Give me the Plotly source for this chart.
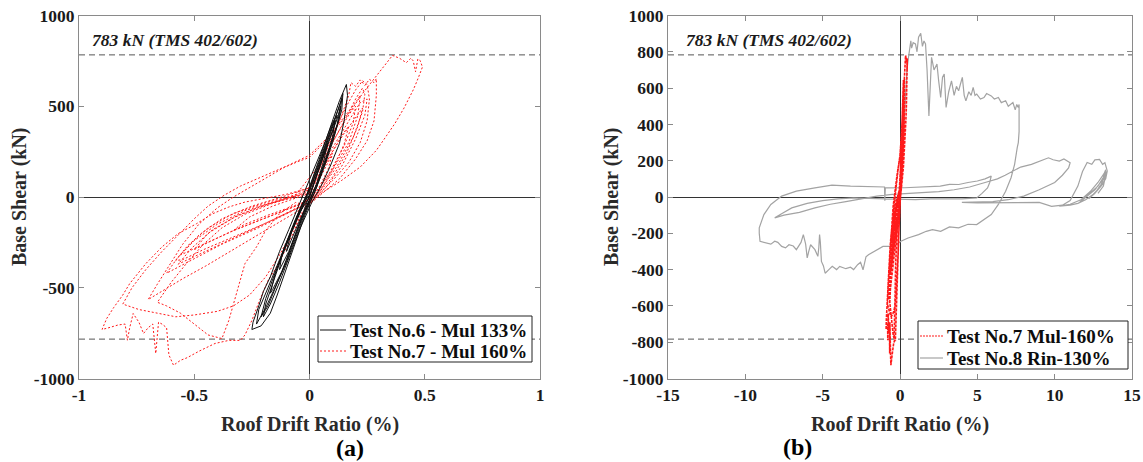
import plotly.graph_objects as go

# Test No.7 - Mul 160%  (drift %, base shear kN)
test7_pts = [
    (0.00, 0), (0.04, 90), (0.08, 190), (0.10, 240), (0.08, 150), (0.04, 50), (0.00, -15),
    (-0.08, -55), (-0.18, -100), (-0.28, -150), (-0.33, -185), (-0.26, -110), (-0.16, -50),
    (-0.06, -5), (0.00, 20),
    (0.04, 110), (0.09, 230), (0.14, 340), (0.17, 390), (0.15, 290), (0.10, 150), (0.05, 40),
    (0.00, -20), (-0.10, -70), (-0.22, -130), (-0.34, -190), (-0.44, -250), (-0.50, -290),
    (-0.44, -200), (-0.33, -115), (-0.22, -55), (-0.10, -10), (0.00, 30),
    (0.05, 140), (0.10, 250), (0.15, 350), (0.20, 440), (0.23, 490), (0.21, 390), (0.16, 240),
    (0.10, 110), (0.03, 10), (-0.05, -45), (-0.18, -110), (-0.32, -180), (-0.45, -255),
    (-0.53, -305), (-0.56, -320), (-0.50, -240), (-0.40, -150), (-0.28, -75), (-0.15, -25),
    (-0.03, 15),
    (0.03, 100), (0.09, 250), (0.15, 380), (0.19, 460), (0.22, 520), (0.25, 540), (0.24, 450),
    (0.20, 320), (0.14, 170), (0.07, 50), (0.01, -25), (-0.08, -80), (-0.20, -150),
    (-0.33, -220), (-0.46, -290), (-0.55, -345), (-0.58, -350), (-0.53, -270), (-0.44, -170),
    (-0.33, -90), (-0.20, -35), (-0.08, 5), (0.00, 40),
    (0.05, 170), (0.10, 300), (0.16, 440), (0.20, 540), (0.23, 600), (0.24, 565), (0.23, 470),
    (0.19, 330), (0.12, 170), (0.05, 45), (0.00, -30), (-0.10, -95), (-0.23, -175),
    (-0.38, -260), (-0.50, -340), (-0.58, -395), (-0.62, -420), (-0.57, -330), (-0.48, -210),
    (-0.38, -120), (-0.25, -50), (-0.12, 0), (0.00, 50),
    (0.04, 150), (0.09, 280), (0.14, 390), (0.18, 470), (0.20, 500), (0.19, 410), (0.15, 280),
    (0.09, 140), (0.03, 20), (-0.04, -50), (-0.15, -120), (-0.30, -210), (-0.42, -280),
    (-0.52, -340), (-0.57, -370), (-0.51, -280), (-0.42, -180), (-0.31, -100), (-0.18, -40),
    (-0.06, 10),
    (0.05, 190), (0.10, 330), (0.14, 450), (0.17, 560), (0.18, 630), (0.20, 610), (0.22, 645),
    (0.24, 615), (0.26, 648), (0.28, 630), (0.29, 652), (0.29, 560), (0.28, 420), (0.25, 310),
    (0.20, 210), (0.13, 100), (0.06, 25), (0.00, -40), (-0.08, -100), (-0.20, -190),
    (-0.33, -290), (-0.45, -380), (-0.55, -450), (-0.63, -510), (-0.70, -565), (-0.66, -480),
    (-0.61, -380), (-0.55, -260), (-0.48, -150), (-0.40, -60), (-0.33, 0), (-0.26, 52),
    (-0.18, 110), (-0.11, 163), (-0.05, 195), (0.00, 218), (0.06, 295), (0.12, 383),
    (0.18, 477), (0.23, 570), (0.30, 680), (0.36, 780),
    (0.39, 765), (0.42, 740), (0.44, 765), (0.45, 750), (0.46, 690), (0.47, 760), (0.48, 752),
    (0.49, 716), (0.47, 650), (0.45, 590), (0.41, 490), (0.37, 404), (0.33, 330), (0.29, 257),
    (0.22, 165), (0.14, 92), (0.06, 28), (0.01, -20), (-0.04, -110), (-0.10, -280),
    (-0.14, -380), (-0.18, -460), (-0.22, -580), (-0.25, -680), (-0.28, -760), (-0.30, -790),
    (-0.35, -790), (-0.41, -807), (-0.48, -850), (-0.53, -885), (-0.56, -900), (-0.59, -927),
    (-0.61, -870), (-0.62, -720), (-0.64, -700), (-0.655, -690), (-0.667, -862), (-0.68, -700),
    (-0.70, -720), (-0.72, -752), (-0.74, -690), (-0.765, -642), (-0.78, -720), (-0.79, -789),
    (-0.80, -700), (-0.83, -705), (-0.87, -720), (-0.90, -730), (-0.88, -670), (-0.85, -610),
    (-0.81, -540), (-0.78, -477), (-0.71, -367), (-0.64, -275), (-0.57, -202), (-0.49, -147),
    (-0.42, -92), (-0.35, -55), (-0.28, -28), (-0.20, -9), (-0.10, 15), (0.00, 50),
    (0.05, 200), (0.11, 370), (0.16, 500), (0.20, 590), (0.23, 640), (0.25, 620), (0.26, 540),
    (0.25, 420), (0.22, 300), (0.17, 190), (0.10, 90), (0.03, 5), (-0.03, -80), (-0.08, -200),
    (-0.13, -320), (-0.19, -440), (-0.26, -540), (-0.33, -600), (-0.40, -630), (-0.50, -650),
    (-0.58, -660), (-0.66, -640), (-0.74, -620), (-0.81, -590), (-0.77, -500), (-0.71, -400),
    (-0.64, -300), (-0.57, -210), (-0.50, -120), (-0.44, -50), (-0.37, 10), (-0.30, 60),
    (-0.20, 115), (-0.10, 170), (0.00, 230), (0.08, 330), (0.15, 440), (0.20, 520),
    (0.22, 560), (0.21, 450), (0.17, 300), (0.10, 150), (0.03, 30), (-0.03, -40),
    (-0.06, -30), (-0.13, -92), (-0.19, -184), (-0.23, -275), (-0.28, -367), (-0.32, -551),
    (-0.35, -680), (-0.38, -780), (-0.44, -760), (-0.50, -700), (-0.56, -640), (-0.62, -600),
    (-0.66, -580), (-0.60, -470), (-0.53, -360), (-0.46, -260), (-0.38, -170), (-0.28, -95),
    (-0.16, -35), (-0.05, 5), (0.00, 20),
]

# Test No.6 - Mul 133%
test6_pts = [
    (0.00, 0), (0.03, 110), (0.06, 230), (0.08, 300), (0.06, 190), (0.03, 70), (0.00, -20),
    (-0.04, -120), (-0.08, -240), (-0.10, -300), (-0.08, -200), (-0.04, -80), (0.00, 30),
    (0.04, 170), (0.08, 320), (0.11, 420), (0.10, 330), (0.07, 200), (0.03, 60), (-0.01, -40),
    (-0.05, -170), (-0.09, -300), (-0.13, -400), (-0.12, -320), (-0.08, -190), (-0.04, -60),
    (0.00, 40),
    (0.05, 210), (0.09, 360), (0.12, 470), (0.14, 540), (0.13, 440), (0.10, 300), (0.06, 150),
    (0.02, 20), (-0.03, -110), (-0.08, -280), (-0.12, -410), (-0.16, -510), (-0.17, -530),
    (-0.15, -430), (-0.11, -280), (-0.06, -120), (-0.01, 20),
    (0.04, 200), (0.08, 350), (0.11, 460), (0.13, 530), (0.15, 590), (0.16, 620), (0.165, 560),
    (0.15, 420), (0.13, 295), (0.09, 170), (0.05, 60), (0.01, -30), (-0.04, -170),
    (-0.09, -340), (-0.13, -470), (-0.17, -590), (-0.20, -660), (-0.19, -590), (-0.16, -480),
    (-0.12, -330), (-0.07, -170), (-0.02, -20), (0.02, 120),
    (0.06, 260), (0.10, 400), (0.13, 500), (0.145, 570), (0.14, 480), (0.11, 350), (0.07, 200),
    (0.03, 50), (-0.02, -100), (-0.06, -250), (-0.10, -400), (-0.14, -540), (-0.17, -640),
    (-0.21, -710), (-0.25, -730), (-0.245, -690), (-0.22, -600), (-0.20, -520), (-0.17, -440),
    (-0.13, -300), (-0.09, -180), (-0.05, -60), (-0.01, 60), (0.03, 180), (0.07, 310),
    (0.10, 410), (0.12, 450), (0.10, 360), (0.06, 220), (0.02, 80), (-0.02, -50), (-0.06, -200),
    (-0.10, -350), (-0.14, -480), (-0.18, -600), (-0.21, -660), (-0.19, -560), (-0.15, -420),
    (-0.10, -260), (-0.05, -100), (0.00, 0),
    (0.04, 160), (0.08, 300), (0.12, 430), (0.135, 500), (0.12, 400), (0.08, 250), (0.04, 100),
    (0.00, -20), (-0.05, -190), (-0.10, -360), (-0.15, -500), (-0.19, -610), (-0.23, -700),
    (-0.22, -620), (-0.18, -500), (-0.13, -340), (-0.08, -190), (-0.03, -40), (0.00, 10),
]

# Test No.8 - Rin 130%
test8_pts = [
    (0.00, 0), (0.10, 150), (0.20, 300), (0.30, 450), (0.35, 560), (0.45, 700), (0.55, 770),
    (0.70, 860), (0.75, 820), (0.85, 850), (1.00, 843), (1.10, 800), (1.20, 880), (1.34, 902),
    (1.45, 830), (1.55, 860), (1.65, 843), (1.75, 700), (1.87, 447), (1.95, 600), (2.04, 770),
    (2.20, 700), (2.39, 733), (2.50, 640), (2.63, 548), (2.75, 660), (2.86, 677), (2.98, 493),
    (3.15, 580), (3.33, 640), (3.50, 560), (3.65, 610), (3.79, 585), (3.90, 620), (4.03, 659),
    (4.15, 560), (4.26, 530), (4.45, 580), (4.60, 560), (4.73, 604), (4.85, 560), (4.96, 567),
    (5.20, 540), (5.43, 548), (5.60, 570), (5.90, 557), (6.10, 540), (6.36, 548), (6.55, 520),
    (6.83, 530), (7.00, 500), (7.30, 520), (7.45, 480), (7.55, 510), (7.65, 493), (7.70, 510),
    (7.72, 440), (7.70, 360), (7.65, 300), (7.58, 272), (7.41, 180), (7.18, 106), (6.83, 32),
    (6.36, -41), (5.90, -97), (5.43, -124), (4.96, -152), (4.40, -150), (3.79, -170),
    (3.20, -165), (2.63, -189), (2.10, -180), (1.70, -189), (1.20, -207), (0.52, -226),
    (0.06, -244), (-0.40, -272), (-1.10, -272), (-1.50, -290), (-2.04, -318), (-2.20, -330),
    (-2.39, -401), (-2.55, -360), (-2.74, -373), (-3.00, -400), (-3.20, -387), (-3.50, -395),
    (-3.90, -382), (-4.10, -400), (-4.38, -382), (-4.60, -400), (-4.84, -420), (-4.95, -380),
    (-5.08, -355), (-5.15, -250), (-5.20, -207), (-5.25, -280), (-5.31, -327), (-5.50, -290),
    (-5.78, -263), (-5.90, -300), (-6.00, -336), (-6.10, -260), (-6.25, -207), (-6.40, -250),
    (-6.70, -290), (-6.90, -270), (-7.18, -263), (-7.40, -280), (-7.65, -272), (-7.90, -250),
    (-8.10, -244), (-8.35, -260), (-8.60, -254), (-8.85, -250), (-9.05, -244), (-9.10, -200),
    (-9.10, -170), (-8.80, -97), (-8.35, -41), (-7.65, 5), (-6.70, 32), (-5.50, 50),
    (-4.40, 65), (-3.20, 60), (-2.00, 56), (-1.00, 55), (-0.98, -20), (-0.95, 50), (0.30, 51),
    (1.50, 54), (2.60, 60), (3.20, 70), (3.80, 69), (4.40, 80), (5.00, 88), (5.50, 100),
    (5.90, 115), (5.80, 80), (5.66, 50), (5.30, 20), (4.96, -5), (4.00, -10), (3.00, -8),
    (2.00, -10), (1.00, -14), (0.30, -14), (-1.00, -10), (-2.00, -8), (-3.00, -5),
    (-4.00, -10), (-5.00, -20), (-6.00, -35), (-7.00, -60), (-7.60, -90), (-8.10, -115),
    (-7.50, -100), (-6.50, -85), (-5.50, -60), (-4.50, -40), (-3.50, -25), (-2.50, -10),
    (-1.50, 5), (-0.50, 15), (0.50, 20), (1.50, 25), (2.50, 30), (3.50, 40), (4.50, 55),
    (5.50, 80), (6.30, 100), (6.80, 120), (7.30, 143), (7.80, 165), (8.50, 180), (9.00, 195),
    (9.60, 216), (9.90, 205), (10.30, 198), (10.60, 210), (11.00, 189), (10.90, 160),
    (10.50, 120), (10.00, 80), (9.00, 40), (8.00, 5), (7.00, -15), (6.00, -25), (5.00, -28),
    (4.00, -30), (5.00, -32), (7.00, -32), (9.00, -30), (9.80, -52), (10.50, -45),
    (11.00, -20), (11.50, 60), (11.80, 140), (12.10, 190), (12.40, 180), (12.60, 205),
    (12.90, 207), (13.10, 180), (13.25, 189), (13.40, 143), (13.30, 100), (13.00, 60),
    (12.50, 15), (12.00, -15), (11.50, -35), (11.00, -45), (10.30, -50), (11.00, -40),
    (11.70, -15), (12.30, 30), (12.80, 80), (13.20, 130), (13.30, 150), (13.10, 95),
    (12.60, 40), (12.00, -5), (11.60, -30), (12.20, 10), (12.80, 60), (13.20, 115),
    (13.35, 140), (13.20, 80), (12.70, 30), (12.20, -10), (12.60, 20), (13.00, 70),
    (13.30, 120), (13.15, 60), (12.80, 20),
]

tms_limit = 783  # kN
x_range_a = [-1, 1]
x_range_b = [-15, 15]
y_range = [-1000, 1000]
x_ticks_a = [-1, -0.5, 0, 0.5, 1]
x_labels_a = ["-1", "-0.5", "0", "0.5", "1"]
x_ticks_b = [-15, -10, -5, 0, 5, 10, 15]
x_labels_b = ["-15", "-10", "-5", "0", "5", "10", "15"]
y_ticks_a = [-1000, -500, 0, 500, 1000]
y_labels_a = ["-1000", "-500", "0", "500", "1000"]
y_ticks_b = [-1000, -800, -600, -400, -200, 0, 200, 400, 600, 800, 1000]
y_labels_b = ["-1000", "-800", "-600", "-400", "-200", "0", "200", "400", "600", "800", "1000"]
legend_a = ["Test No.6 - Mul 133%", "Test No.7 - Mul 160%"]
legend_b = ["Test No.7 Mul-160%", "Test No.8 Rin-130%"]

t7_x = [p[0] for p in test7_pts]
t7_y = [p[1] for p in test7_pts]
t6_x = [p[0] for p in test6_pts]
t6_y = [p[1] for p in test6_pts]
t8_x = [p[0] for p in test8_pts]
t8_y = [p[1] for p in test8_pts]

# ---------------- figure ----------------
W, H = 1143, 462
FONT = "Liberation Serif, Times New Roman, serif"
RED = "#ff1a1a"
GREY = "#a3a3a3"
BOX = "#8a8a8a"
BLACK = "#111111"

red_a = dict(color=RED, width=1, dash="2px,2px")
black_a = dict(color=BLACK, width=1)
grey_b = dict(color=GREY, width=1.2)
red_b = dict(color=RED, width=1.6, dash="3px,1px")

fig = go.Figure()
# panel (a)
fig.add_trace(go.Scatter(x=t7_x, y=t7_y, mode="lines", name=legend_a[1], line=red_a,
                         xaxis="x", yaxis="y", showlegend=False))
fig.add_trace(go.Scatter(x=t6_x, y=t6_y, mode="lines", name=legend_a[0], line=black_a,
                         xaxis="x", yaxis="y", showlegend=False))
# panel (b)
fig.add_trace(go.Scatter(x=t8_x, y=t8_y, mode="lines", name=legend_b[1], line=grey_b,
                         xaxis="x2", yaxis="y2", showlegend=False))
fig.add_trace(go.Scatter(x=t7_x, y=t7_y, mode="lines", name=legend_b[0], line=red_b,
                         xaxis="x2", yaxis="y2", showlegend=False))

ydom = [1 - 378.5 / H, 1 - 15.5 / H]
tickfont = dict(family=FONT, size=17.5, color="#1a1a1a", weight="bold")


def axis_common(rng, ticks, labels):
    return dict(range=rng, tickvals=ticks, ticktext=labels, ticks="inside", ticklen=5,
                tickcolor=BOX, showline=True, linecolor=BOX, linewidth=1, mirror="allticks",
                showgrid=False, zeroline=True, zerolinecolor="#333333", zerolinewidth=1,
                tickfont=tickfont, fixedrange=True, automargin=False)


fig.update_layout(
    width=W, height=H, margin=dict(l=0, r=0, t=0, b=0, autoexpand=False),
    paper_bgcolor="white", plot_bgcolor="white", showlegend=False,
    xaxis=dict(domain=[79 / W, 540 / W], anchor="y",
               **axis_common(x_range_a, x_ticks_a, x_labels_a)),
    yaxis=dict(domain=ydom, anchor="x", **axis_common(y_range, y_ticks_a, y_labels_a)),
    xaxis2=dict(domain=[668 / W, 1132 / W], anchor="y2",
                **axis_common(x_range_b, x_ticks_b, x_labels_b)),
    yaxis2=dict(domain=ydom, anchor="x2", **axis_common(y_range, y_ticks_b, y_labels_b)),
)

# reference capacity lines (783 kN)
for xr, yr, rng in (("x", "y", x_range_a), ("x2", "y2", x_range_b)):
    for v in (tms_limit, -tms_limit):
        fig.add_shape(type="line", xref=xr, yref=yr, x0=rng[0], x1=rng[1], y0=v, y1=v,
                      line=dict(color="#555555", width=1, dash="6px,4px"), layer="below")

labfont = dict(family=FONT, size=17.5, color="#1a1a1a", weight="bold", style="italic")
fig.add_annotation(text="783 kN (TMS 402/602)", xref="x", yref="y", x=x_range_a[0], y=tms_limit,
                   xanchor="left", yanchor="bottom", xshift=11, yshift=3, showarrow=False,
                   font=labfont)
fig.add_annotation(text="783 kN (TMS 402/602)", xref="x2", yref="y2", x=x_range_b[0], y=tms_limit,
                   xanchor="left", yanchor="bottom", xshift=16, yshift=3, showarrow=False,
                   font=labfont)

titlefont = dict(family=FONT, size=20, color="#2a2a2a", weight="bold")
for xc in (309.5, 900):
    fig.add_annotation(text="Roof Drift Ratio (%)", xref="paper", yref="paper",
                       x=xc / W, y=1 - 424 / H, xanchor="center", yanchor="middle",
                       showarrow=False, font=titlefont)
for xc in (20, 612):
    fig.add_annotation(text="Base Shear (kN)", xref="paper", yref="paper", textangle=-90,
                       x=xc / W, y=1 - 197 / H, xanchor="center", yanchor="middle",
                       showarrow=False, font=titlefont)

panfont = dict(family=FONT, size=24, color="#000000", weight="bold")
fig.add_annotation(text="(a)", xref="paper", yref="paper", x=350 / W, y=1 - 448 / H,
                   xanchor="center", yanchor="middle", showarrow=False, font=panfont)
fig.add_annotation(text="(b)", xref="paper", yref="paper", x=797 / W, y=1 - 447 / H,
                   xanchor="center", yanchor="middle", showarrow=False, font=panfont)

# ---------------- hand-built legends (boxes, samples, labels) ----------------
legfont = dict(family=FONT, size=19, color="#0d0d0d", weight="bold")


def px_x(v):
    return v / W


def px_y(v):
    return 1 - v / H


def draw_legend(box, rows, labels, styles, sample):
    x0, y0, x1, y1 = box
    fig.add_shape(type="rect", xref="paper", yref="paper", x0=px_x(x0), x1=px_x(x1),
                  y0=px_y(y1), y1=px_y(y0), line=dict(color="#222222", width=1),
                  fillcolor="white", layer="above")
    for ry, lab, st in zip(rows, labels, styles):
        fig.add_shape(type="line", xref="paper", yref="paper", x0=px_x(sample[0]),
                      x1=px_x(sample[1]), y0=px_y(ry), y1=px_y(ry), line=st, layer="above")
        fig.add_annotation(text=lab, xref="paper", yref="paper", x=px_x(sample[1] + 2),
                           y=px_y(ry), xanchor="left", yanchor="middle", showarrow=False,
                           font=legfont)


draw_legend((318, 316, 532, 362), (330, 351), legend_a,
            [black_a, dict(color=RED, width=1, dash="2px,2px")], (320, 346))
draw_legend((918, 321, 1128, 369), (336, 358), legend_b,
            [dict(color=RED, width=1.2, dash="2px,1px"), grey_b], (920, 943))

fig.write_html("out.html")
